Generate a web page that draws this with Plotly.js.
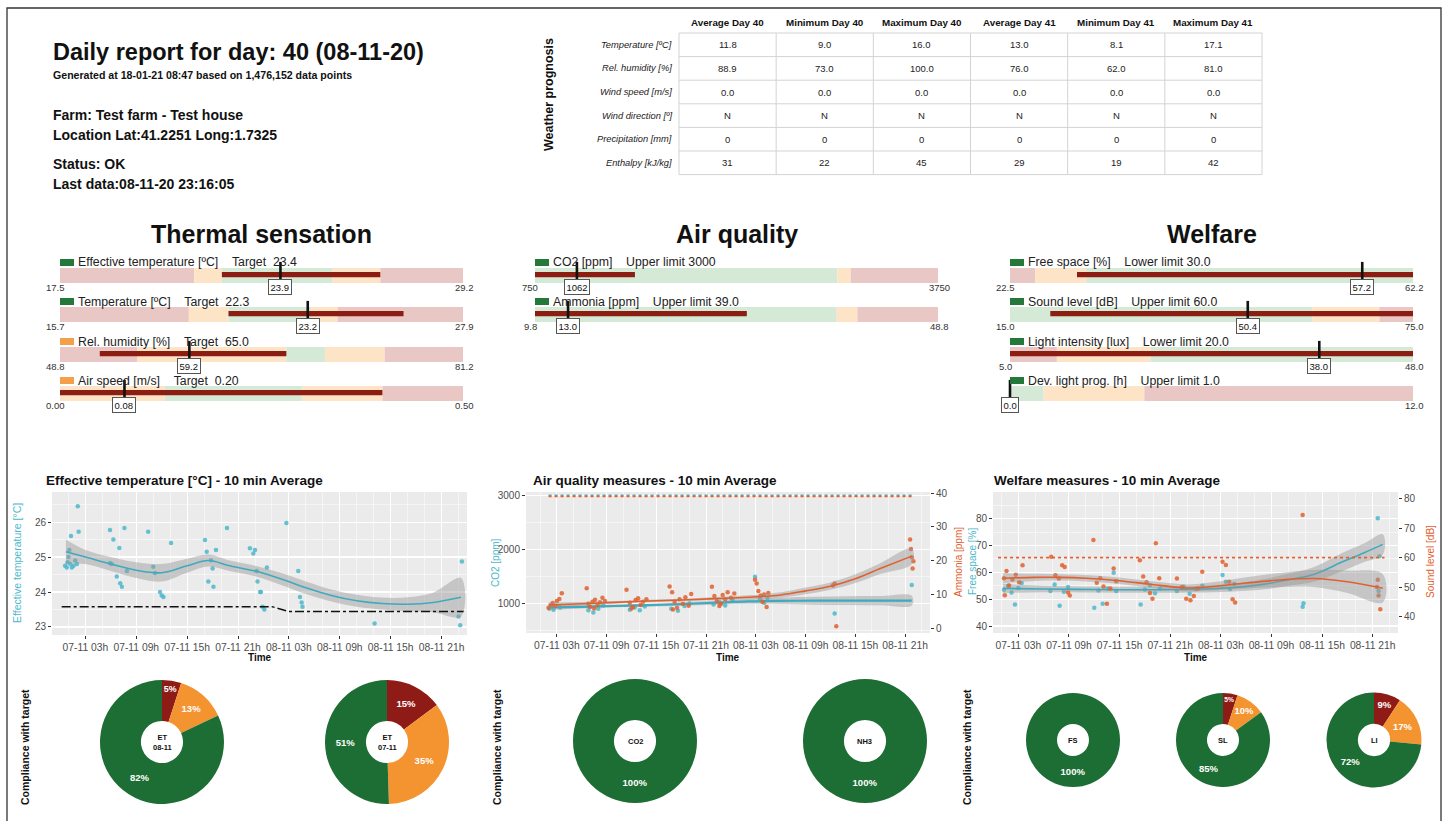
<!DOCTYPE html>
<html>
<head>
<meta charset="utf-8">
<title>Daily report</title>
<script src="https://cdn.plot.ly/plotly-3.0.1.min.js"></script>
<style>
html,body{margin:0;padding:0;background:#ffffff;overflow:hidden;}
#chart{width:1449px;height:821px;}
</style>
</head>
<body>
<div id="chart"></div>
<script>
// ================= DATA =================
const reportTitle = 'Daily report for day: 40 (08-11-20)';
const reportSubtitle = 'Generated at 18-01-21 08:47 based on 1,476,152 data points';
const farmInfo = ['Farm: Test farm - Test house', 'Location Lat:41.2251 Long:1.7325'];
const statusInfo = ['Status: OK', 'Last data:08-11-20 23:16:05'];

const weatherTitle = 'Weather prognosis';
const weatherColumns = ['Average Day 40', 'Minimum Day 40', 'Maximum Day 40', 'Average Day 41', 'Minimum Day 41', 'Maximum Day 41'];
const weatherRows = ['Temperature [ºC]', 'Rel. humidity [%]', 'Wind speed [m/s]', 'Wind direction [º]', 'Precipitation [mm]', 'Enthalpy [kJ/kg]'];
const weatherAvg40 = ['11.8', '88.9', '0.0', 'N', '0', '31'];
const weatherMin40 = ['9.0', '73.0', '0.0', 'N', '0', '22'];
const weatherMax40 = ['16.0', '100.0', '0.0', 'N', '0', '45'];
const weatherAvg41 = ['13.0', '76.0', '0.0', 'N', '0', '29'];
const weatherMin41 = ['8.1', '62.0', '0.0', 'N', '0', '19'];
const weatherMax41 = ['17.1', '81.0', '0.0', 'N', '0', '42'];

const sectionTitles = ['Thermal sensation', 'Air quality', 'Welfare'];

// gauges (0 = thermal, 1 = air quality, 2 = welfare)
const gaugeGroup = [0, 0, 0, 0, 1, 1, 2, 2, 2, 2];
const gaugeNames = ['Effective temperature [ºC]', 'Temperature [ºC]', 'Rel. humidity [%]', 'Air speed [m/s]',
  'CO2 [ppm]', 'Ammonia [ppm]',
  'Free space [%]', 'Sound level [dB]', 'Light intensity [lux]', 'Dev. light prog. [h]'];
const gaugeLimitText = ['Target  23.4', 'Target  22.3', 'Target  65.0', 'Target  0.20',
  'Upper limit 3000', 'Upper limit 39.0',
  'Lower limit 30.0', 'Upper limit 60.0', 'Lower limit 20.0', 'Upper limit 1.0'];
const gaugeMin = [17.5, 15.7, 48.8, 0.0, 750, 9.8, 22.5, 15.0, 5.0, 0.0];
const gaugeMax = [29.2, 27.9, 81.2, 0.5, 3750, 48.8, 62.2, 75.0, 48.0, 12.0];
const gaugeMinLabel = ['17.5', '15.7', '48.8', '0.00', '750', '9.8', '22.5', '15.0', '5.0', '0.0'];
const gaugeMaxLabel = ['29.2', '27.9', '81.2', '0.50', '3750', '48.8', '62.2', '75.0', '48.0', '12.0'];
const gaugeValue = [23.9, 23.2, 59.2, 0.08, 1062, 13.0, 57.2, 50.4, 38.0, 0.0];
const gaugeValueLabel = ['23.9', '23.2', '59.2', '0.08', '1062', '13.0', '57.2', '50.4', '38.0', '0.0'];
const gaugeRangeLow = [22.2, 20.8, 52.0, 0.00, 750, 9.8, 29.1, 21.0, 5.0, 0.0];
const gaugeRangeHigh = [26.8, 26.1, 67.0, 0.40, 1494, 30.3, 62.2, 75.0, 48.0, 0.0];
const gaugeStatus = ['ok', 'ok', 'warn', 'warn', 'ok', 'ok', 'ok', 'ok', 'ok', 'ok'];
const gaugeZoneBreaks = [
  [17.5, 21.4, 22.2, 25.4, 26.8, 29.2],
  [15.7, 19.6, 20.8, 23.3, 24.1, 27.9],
  [48.8, 55.0, 67.0, 70.1, 74.9, 81.2],
  [0.00, 0.13, 0.30, 0.40, 0.50],
  [750, 3000, 3100, 3750],
  [9.8, 39.0, 41.0, 48.8],
  [22.5, 25.0, 30.0, 62.2],
  [15.0, 60.0, 70.0, 75.0],
  [5.0, 10.0, 20.0, 48.0],
  [0.0, 1.0, 4.0, 12.0]
];
const gaugeZoneLevels = [
  ['bad', 'warn', 'ok', 'warn', 'bad'],
  ['bad', 'warn', 'ok', 'warn', 'bad'],
  ['bad', 'warn', 'ok', 'warn', 'bad'],
  ['warn', 'ok', 'warn', 'bad'],
  ['ok', 'warn', 'bad'],
  ['ok', 'warn', 'bad'],
  ['bad', 'warn', 'ok'],
  ['ok', 'warn', 'bad'],
  ['bad', 'warn', 'ok'],
  ['ok', 'warn', 'bad']
];

// time series (hours since 07-11 00:00)
const chartTitles = ['Effective temperature [°C] - 10 min Average', 'Air quality measures - 10 min Average', 'Welfare measures - 10 min Average'];
const timeTickHours = [3, 9, 15, 21, 27, 33, 39, 45];
const timeTickLabels = ['07-11 03h', '07-11 09h', '07-11 15h', '07-11 21h', '08-11 03h', '08-11 09h', '08-11 15h', '08-11 21h'];

const etHours = [0.6, 0.8, 0.9, 1.0, 1.1, 1.2, 1.3, 1.4, 1.6, 1.8, 2.0, 2.1, 2.2,
  5.9, 5.9, 6.1, 6.3, 6.7, 7.0, 7.1, 7.3, 7.6, 7.9,
  10.4, 11.0, 11.2, 11.8, 12.0, 12.2, 13.1,
  17.1, 17.3, 17.5, 17.8, 18.0, 18.1, 18.4, 19.7,
  22.4, 22.8, 23.0, 23.2, 23.3, 23.6, 23.7, 23.9, 24.1, 24.4,
  26.7, 28.1, 28.3, 28.5, 28.6, 37.1, 47.0, 47.2, 47.4];
const etValues = [24.75, 24.70, 24.85, 25.00, 25.20, 24.80, 25.60, 24.70, 24.75, 24.90, 24.80, 26.45, 25.72,
  25.77, 24.83, 24.80, 25.50, 24.44, 25.26, 24.25, 24.15, 25.83, 24.60,
  25.72, 24.72, 24.54, 24.00, 23.90, 23.86, 25.40,
  25.49, 25.15, 24.30, 24.91, 24.67, 24.15, 25.20, 25.83,
  25.25, 25.10, 25.20, 24.60, 24.30, 24.00, 24.00, 23.58, 23.50, 24.70,
  25.97, 24.60, 23.86, 23.70, 23.58, 23.10, 23.30, 23.05, 24.87];
const etSmoothHours = [0.7, 3, 6, 9, 12, 15, 17.5, 20, 23, 26, 29, 32, 35, 38, 41, 44, 47.3];
const etSmoothValues = [25.15, 25.00, 24.80, 24.62, 24.55, 24.75, 24.90, 24.75, 24.60, 24.38, 24.12, 23.90, 23.75, 23.67, 23.65, 23.70, 23.85];
const etSmoothLow = [24.80, 24.80, 24.60, 24.40, 24.30, 24.55, 24.73, 24.60, 24.45, 24.21, 23.94, 23.73, 23.58, 23.50, 23.45, 23.42, 23.30];
const etSmoothHigh = [25.50, 25.20, 25.00, 24.85, 24.80, 24.95, 25.07, 24.90, 24.75, 24.55, 24.30, 24.07, 23.92, 23.84, 23.85, 23.98, 24.40];
const etTargetHours = [0.2, 25.0, 27.0, 47.6];
const etTargetValues = [23.58, 23.58, 23.44, 23.44];

const co2Hours = [2.1, 2.6, 3.0, 3.4, 6.8, 7.4, 8.0, 8.6, 11.8, 12.4, 13.0, 13.6, 16.8, 17.6, 18.4, 19.0,
  21.9, 22.6, 23.3, 24.2, 26.9, 27.5, 28.0, 28.4, 36.5, 45.8];
const co2Values = [900, 880, 950, 920, 870, 830, 900, 960, 880, 920, 870, 940, 900, 860, 950, 1000,
  980, 1020, 960, 1060, 1490, 1080, 1010, 1100, 810, 1340];
const nh3Hours = [2.0, 2.3, 2.5, 2.8, 3.0, 3.3, 3.6,
  6.6, 6.8, 7.0, 7.3, 7.5, 7.6, 7.9, 8.2, 8.5, 8.8,
  11.4, 11.8, 12.0, 12.2, 12.5, 12.8, 13.1, 13.4, 13.8,
  16.6, 16.9, 17.0, 17.2, 17.5, 17.8, 18.2, 18.5, 18.9, 19.2,
  21.7, 22.0, 22.3, 22.6, 22.8, 23.0, 23.3, 23.6, 24.0, 24.4,
  26.9, 27.1, 27.3, 27.6, 27.8, 28.0, 28.3, 28.5,
  36.3, 36.5, 36.7, 45.6, 45.7, 45.8, 45.9, 46.0];
const nh3Values = [6.0, 6.8, 7.4, 6.5, 8.0, 8.6, 10.3,
  11.8, 7.2, 6.2, 7.8, 5.8, 8.4, 6.8, 7.6, 9.0, 8.0,
  11.3, 7.5, 5.8, 6.2, 8.3, 8.8, 6.8, 7.8, 8.5,
  12.3, 10.6, 5.5, 7.8, 6.0, 8.5, 7.2, 9.1, 6.6, 10.1,
  12.2, 9.5, 8.0, 6.5, 7.2, 9.8, 8.5, 10.6, 9.0, 10.2,
  14.3, 13.2, 11.0, 9.6, 7.8, 9.9, 6.2, 10.4,
  12.6, 13.2, 0.5, 26.2, 23.4, 21.0, 17.6, 19.8];
const co2SmoothHours = [2, 6, 10, 14, 18, 22, 26, 30, 34, 38, 42, 45.8];
const co2SmoothValues = [925, 935, 950, 965, 985, 1010, 1035, 1045, 1048, 1050, 1050, 1050];
const co2SmoothLow = [880, 905, 925, 940, 955, 975, 990, 985, 975, 970, 965, 960];
const co2SmoothHigh = [970, 965, 975, 990, 1015, 1045, 1080, 1105, 1120, 1130, 1135, 1140];
const nh3SmoothHours = [2, 6, 10, 14, 18, 22, 26, 30, 33, 36, 39, 42, 45.8];
const nh3SmoothValues = [6.8, 7.2, 7.6, 8.0, 8.3, 8.7, 9.1, 9.8, 11.0, 12.4, 14.6, 17.6, 21.3];
const nh3SmoothLow = [6.0, 6.7, 7.2, 7.6, 7.9, 8.2, 8.5, 9.0, 10.0, 11.3, 13.3, 16.0, 19.0];
const nh3SmoothHigh = [7.6, 7.7, 8.0, 8.4, 8.7, 9.2, 9.7, 10.6, 12.0, 13.5, 15.9, 19.2, 23.6];
const co2LimitHours = [2.0, 45.8];
const co2LimitValues = [3000, 3000];
const nh3LimitHours = [2.0, 45.8];
const nh3LimitValues = [39, 39];

const fsHours = [1.3, 1.8, 2.2, 2.6, 3.0, 3.4, 6.8, 7.3, 7.9, 8.4, 8.9,
  12.0, 12.5, 13.0, 13.6, 14.3, 14.6, 17.5, 18.0, 18.6, 19.2, 19.8,
  21.8, 22.6, 23.3, 24.0, 24.8, 27.2, 27.6, 28.1, 28.6, 36.7, 36.8, 45.6, 45.7, 45.8];
const fsValues = [53.5, 55.0, 52.5, 48.0, 54.2, 56.0, 53.0, 55.5, 47.5, 52.8, 54.5,
  46.8, 53.2, 48.3, 54.0, 59.8, 53.0, 48.0, 53.6, 55.2, 52.2, 54.0,
  53.0, 54.6, 52.0, 53.8, 55.0, 59.0, 56.5, 53.8, 55.6, 47.2, 48.5, 80.1, 53.0, 66.0];
const slHours = [1.3, 1.4, 1.6, 1.9, 2.3, 2.7, 3.1, 3.5, 6.9, 7.4, 7.8, 8.2, 8.5, 8.9, 9.1,
  11.9, 12.3, 12.7, 13.1, 13.5, 13.9, 14.3, 14.6, 17.4, 17.8, 18.2, 18.6, 18.9, 19.3, 19.7,
  21.8, 22.4, 22.9, 23.4, 23.8, 24.3, 24.8, 27.2, 27.6, 28.0, 28.4, 28.7, 36.7, 45.5, 45.6, 45.7, 45.9];
const slValues = [53.0, 47.2, 55.5, 50.5, 52.6, 54.2, 51.6, 57.4, 60.3, 54.0, 52.9, 57.4, 56.8, 48.2, 47.1,
  66.0, 51.5, 53.0, 50.2, 44.3, 49.5, 56.3, 52.0, 59.1, 53.6, 51.6, 48.0, 46.0, 64.9, 53.0,
  52.9, 50.0, 46.0, 45.5, 47.0, 49.5, 55.2, 58.6, 57.5, 51.8, 45.9, 44.8, 74.5, 50.0, 52.5, 47.1, 42.5];
const fsSmoothHours = [1.2, 6, 12, 18, 24, 28, 32, 35.5, 38, 41.5, 44, 46.2];
const fsSmoothValues = [54.0, 53.8, 53.6, 53.5, 53.7, 54.2, 55.5, 57.5, 59.2, 64.0, 67.3, 70.4];
const fsSmoothLow = [52.3, 52.6, 52.5, 52.4, 52.5, 52.8, 53.6, 55.2, 56.5, 60.6, 63.8, 66.6];
const fsSmoothHigh = [55.7, 55.0, 54.7, 54.6, 54.9, 55.6, 57.4, 59.8, 61.9, 67.4, 70.8, 74.2];
const slSmoothHours = [1.2, 5, 8, 11, 14, 17, 20, 23, 26, 30, 34, 38, 42, 46.2];
const slSmoothValues = [53.0, 53.3, 53.3, 53.0, 52.4, 51.5, 50.5, 49.7, 50.2, 51.4, 52.4, 52.9, 51.8, 49.6];
const slSmoothLow = [51.3, 52.1, 52.2, 51.9, 51.3, 50.4, 49.4, 48.5, 48.8, 49.5, 50.0, 50.0, 48.0, 44.8];
const slSmoothHigh = [54.7, 54.5, 54.4, 54.1, 53.5, 52.6, 51.6, 50.9, 51.6, 53.3, 54.8, 55.8, 55.6, 54.4];
const slLimitHours = [0.6, 46.4];
const slLimitValues = [60, 60];

// compliance donuts
const complianceTitle = 'Compliance with target';
const pieNames = ['ET<br>08-11', 'ET<br>07-11', 'CO2', 'NH3', 'FS', 'SL', 'LI'];
const pieBad = [5, 15, 0, 0, 0, 5, 9];
const pieWarn = [13, 35, 0, 0, 0, 10, 17];
const pieOk = [82, 51, 100, 100, 100, 85, 72];

// ================= STYLE / LAYOUT =================
const W = 1449, H = 821;
const FONT = '"Liberation Sans", Arial, Helvetica, sans-serif';
const fx = p => p / W;
const fy = p => 1 - p / H;
const sfx = n => (n === 1 ? '' : String(n));
const ZONE_COLORS = {bad: '#e9c7c5', warn: '#fde4c6', ok: '#d4ead6'};
const STATUS_COLORS = {ok: '#23783a', warn: '#f4a04a'};
const RANGE_COLOR = '#8c1d12';
const CYAN = '#4cb8cb', ORANGE = '#e2602e';
const PIE_COLORS = {bad: '#8e1b16', warn: '#f39431', ok: '#1d6e34'};
const PIE_LEVELS = ['bad', 'warn', 'ok'];

const data = [];
const A = [];
const S = [];
function font(size, color, fam) { return {family: fam || FONT, size: size, color: color || '#111'}; }
function note(x, y, text, o) {
  A.push(Object.assign({xref: 'paper', yref: 'paper', x: fx(x), y: fy(y), text: text, showarrow: false,
    xanchor: 'left', yanchor: 'middle', font: font(12)}, o || {}));
}
function hline(x0, x1, y, color, w) {
  S.push({type: 'line', xref: 'paper', yref: 'paper', x0: fx(x0), x1: fx(x1), y0: fy(y), y1: fy(y), line: {color: color, width: w}});
}
function vline(x, y0, y1, color, w) {
  S.push({type: 'line', xref: 'paper', yref: 'paper', x0: fx(x), x1: fx(x), y0: fy(y0), y1: fy(y1), line: {color: color, width: w}});
}
const nb = s => s.replace(/ /g, '\u00A0');

// ---- header ----
note(51, 52, '<b>' + reportTitle + '</b>', {font: font(23.5)});
note(51, 75, '<b>' + reportSubtitle + '</b>', {font: font(10.6)});
note(51, 115, '<b>' + farmInfo[0] + '</b>', {font: font(14)});
note(51, 135, '<b>' + farmInfo[1] + '</b>', {font: font(14)});
note(51, 164, '<b>' + statusInfo[0] + '</b>', {font: font(14)});
note(51, 184, '<b>' + statusInfo[1] + '</b>', {font: font(14)});

// ---- weather table ----
note(549, 95, '<b>' + weatherTitle + '</b>', {xanchor: 'center', textangle: -90, font: font(12.5)});
const TBL_X0 = 679, TBL_COLW = 97.17, TBL_Y0 = 33, TBL_ROWH = 23.6, TBL_HEAD_Y = 22;
const valueCols = [weatherAvg40, weatherMin40, weatherMax40, weatherAvg41, weatherMin41, weatherMax41];
for (let r = 0; r <= weatherRows.length; r++) hline(TBL_X0, TBL_X0 + TBL_COLW * valueCols.length, TBL_Y0 + r * TBL_ROWH, '#d3d3d3', 1);
for (let c = 0; c <= valueCols.length; c++) vline(TBL_X0 + c * TBL_COLW, TBL_Y0, TBL_Y0 + weatherRows.length * TBL_ROWH, '#d3d3d3', 1);
weatherColumns.forEach((h, c) => note(TBL_X0 + (c + 0.5) * TBL_COLW, TBL_HEAD_Y, '<b>' + h + '</b>', {xanchor: 'center', font: font(9.8, '#111')}));
weatherRows.forEach((lab, r) => {
  const y = TBL_Y0 + (r + 0.5) * TBL_ROWH;
  note(TBL_X0 - 5, y, '<i>' + lab + '</i>', {xanchor: 'right', font: font(9.3, '#222')});
  valueCols.forEach((col, c) => note(TBL_X0 + (c + 0.5) * TBL_COLW, y, col[r], {xanchor: 'center', font: font(9.5, '#222')}));
});

// ---- gauges ----
const GROUP_LEFT = [60, 535, 1010];
const ROW_TOP = [268, 307, 347, 386];
const BAND_W = 403, BAND_H = 15;
const layout = {
  width: W, height: H, margin: {l: 0, r: 0, t: 0, b: 0},
  paper_bgcolor: 'white', plot_bgcolor: 'rgba(0,0,0,0)',
  showlegend: false, hovermode: false, barmode: 'overlay',
  font: {family: FONT, color: '#222'}
};
sectionTitles.forEach((t, g) => note(GROUP_LEFT[g] + BAND_W / 2, 234, '<b>' + t + '</b>', {xanchor: 'center', font: font(25)}));

const rowCount = [0, 0, 0];
const gaugeAxes = [];
for (let i = 0; i < gaugeNames.length; i++) {
  const g = gaugeGroup[i], r = rowCount[g]++;
  const n = i + 1, s = sfx(n);
  const left = GROUP_LEFT[g], top = ROW_TOP[r];
  gaugeAxes.push(s);
  layout['xaxis' + s] = {domain: [fx(left), fx(left + BAND_W)], range: [gaugeMin[i], gaugeMax[i]], visible: false, fixedrange: true, anchor: 'y' + s};
  layout['yaxis' + s] = {domain: [fy(top + BAND_H), fy(top)], range: [-0.5, 0.5], visible: false, fixedrange: true, anchor: 'x' + s};
  const br = gaugeZoneBreaks[i];
  const starts = br.slice(0, -1);
  data.push({type: 'bar', orientation: 'h', xaxis: 'x' + s, yaxis: 'y' + s,
    y: starts.map(() => 0), base: starts, x: br.slice(1).map((b, k) => b - br[k]), width: 1,
    marker: {color: gaugeZoneLevels[i].map(l => ZONE_COLORS[l]), line: {width: 0}}, hoverinfo: 'skip'});
  if (gaugeRangeHigh[i] > gaugeRangeLow[i]) {
    data.push({type: 'bar', orientation: 'h', xaxis: 'x' + s, yaxis: 'y' + s,
      y: [0.06], base: [gaugeRangeLow[i]], x: [gaugeRangeHigh[i] - gaugeRangeLow[i]], width: 0.34,
      marker: {color: RANGE_COLOR, line: {width: 0}}, hoverinfo: 'skip'});
  }
  data.push({type: 'scatter', mode: 'markers', xaxis: 'x' + s, yaxis: 'y' + s, x: [gaugeValue[i]], y: [0.3],
    cliponaxis: false, marker: {symbol: 'line-ns', size: 13, line: {width: 2.6, color: '#111'}}, hoverinfo: 'skip'});
  S.push({type: 'rect', xref: 'paper', yref: 'paper', x0: fx(left), x1: fx(left + 14), y0: fy(top - 2), y1: fy(top - 9),
    fillcolor: STATUS_COLORS[gaugeStatus[i]], line: {width: 0}});
  note(left + 16, top - 5.5, nb(gaugeNames[i] + '    ' + gaugeLimitText[i]), {font: font(12.3, '#222')});
  // the min label sits under the value box when the value equals the minimum
  if (gaugeValue[i] !== gaugeMin[i]) {
    A.push({xref: 'x' + s, yref: 'y' + s, x: gaugeMin[i], y: -0.5, xshift: -5, yshift: -4.5, xanchor: 'center', yanchor: 'middle',
      text: gaugeMinLabel[i], showarrow: false, font: font(9.5, '#333')});
  }
  A.push({xref: 'x' + s, yref: 'y' + s, x: gaugeMax[i], y: -0.5, xshift: 1, yshift: -4.5, xanchor: 'center', yanchor: 'middle',
    text: gaugeMaxLabel[i], showarrow: false, font: font(9.5, '#333')});
}
for (let i = 0; i < gaugeNames.length; i++) {
  const s = gaugeAxes[i];
  A.push({xref: 'x' + s, yref: 'y' + s, x: gaugeValue[i], y: -0.5, yshift: -4, xanchor: 'center', yanchor: 'middle',
    text: gaugeValueLabel[i], showarrow: false, bgcolor: 'white', bordercolor: '#555', borderwidth: 1, borderpad: 1.5,
    font: font(9.5, '#111')});
}

// ---- time series charts ----
const panels = [
  {x: [52, 467], y: [492, 635], range: [-0.94, 48]},
  {x: [526, 930], y: [492, 633], range: [-0.72, 48]},
  {x: [993, 1398], y: [492, 633], range: [0, 48]}
];
const TICKFONT = font(10.3, '#4d4d4d');
const YTICKFONT = font(10, '#4d4d4d');
function xTime(p, yId) {
  return {domain: [fx(p.x[0]), fx(p.x[1])], range: p.range, anchor: yId,
    tickmode: 'array', tickvals: timeTickHours, ticktext: timeTickLabels, tickangle: 0,
    ticks: 'outside', ticklen: 3, tickwidth: 1, tickcolor: '#333', tickfont: TICKFONT,
    showgrid: true, gridcolor: '#ffffff', gridwidth: 1.1,
    minor: {tickmode: 'linear', tick0: 1, dtick: 2, showgrid: true, gridcolor: '#ffffff', gridwidth: 0.5},
    zeroline: false, showline: false, fixedrange: true};
}
function yLeft(p, xId, range, tickvals, minorD) {
  return {domain: [fy(p.y[1]), fy(p.y[0])], range: range, anchor: xId,
    tickmode: 'array', tickvals: tickvals, ticks: 'outside', ticklen: 3, tickwidth: 1, tickcolor: '#333', tickfont: YTICKFONT,
    showgrid: true, gridcolor: '#ffffff', gridwidth: 1.1,
    minor: {tickmode: 'linear', tick0: 0, dtick: minorD, showgrid: true, gridcolor: '#ffffff', gridwidth: 0.5},
    zeroline: false, showline: false, fixedrange: true};
}
function yRight(overId, xId, range, tickvals) {
  return {overlaying: overId, side: 'right', anchor: xId, range: range,
    tickmode: 'array', tickvals: tickvals, ticks: 'outside', ticklen: 3, tickwidth: 1, tickcolor: '#333', tickfont: YTICKFONT,
    showgrid: false, zeroline: false, showline: false, fixedrange: true};
}
layout.xaxis11 = xTime(panels[0], 'y11');
layout.yaxis11 = yLeft(panels[0], 'x11', [22.77, 26.86], [23, 24, 25, 26], 0.5);
layout.xaxis12 = xTime(panels[1], 'y12');
layout.yaxis12 = yLeft(panels[1], 'x12', [450, 3061], [1000, 2000, 3000], 500);
layout.yaxis14 = yRight('y12', 'x12', [-1.48, 40.3], [0, 10, 20, 30, 40]);
layout.xaxis13 = xTime(panels[2], 'y13');
layout.yaxis13 = yLeft(panels[2], 'x13', [37.4, 89.9], [40, 50, 60, 70, 80], 5);
layout.yaxis15 = yRight('y13', 'x13', [34.4, 82.3], [40, 50, 60, 70, 80]);

panels.forEach(p => S.push({type: 'rect', xref: 'paper', yref: 'paper', layer: 'below',
  x0: fx(p.x[0]), x1: fx(p.x[1]), y0: fy(p.y[1]), y1: fy(p.y[0]), fillcolor: '#ebebeb', line: {width: 0}}));

function pts(xId, yId, hrs, vals, color) {
  data.push({type: 'scatter', mode: 'markers', xaxis: xId, yaxis: yId, x: hrs, y: vals,
    marker: {color: color, size: 4.5, opacity: 0.85}, hoverinfo: 'skip'});
}
function band(xId, yId, hrs, low, high) {
  data.push({type: 'scatter', mode: 'lines', xaxis: xId, yaxis: yId,
    x: hrs.concat(hrs.slice().reverse()), y: high.concat(low.slice().reverse()),
    fill: 'toself', fillcolor: 'rgba(150,150,150,0.45)', line: {width: 0, shape: 'spline'}, hoverinfo: 'skip'});
}
function curve(xId, yId, hrs, vals, color, width, dash, shape) {
  data.push({type: 'scatter', mode: 'lines', xaxis: xId, yaxis: yId, x: hrs, y: vals,
    line: {color: color, width: width, dash: dash || 'solid', shape: shape || 'spline'}, hoverinfo: 'skip'});
}
// chart 1
pts('x11', 'y11', etHours, etValues, CYAN);
band('x11', 'y11', etSmoothHours, etSmoothLow, etSmoothHigh);
curve('x11', 'y11', etSmoothHours, etSmoothValues, '#3daabf', 1.6);
curve('x11', 'y11', etTargetHours, etTargetValues, '#111', 1.4, 'dashdot', 'linear');
// chart 2
pts('x12', 'y12', co2Hours, co2Values, CYAN);
band('x12', 'y12', co2SmoothHours, co2SmoothLow, co2SmoothHigh);
curve('x12', 'y12', co2SmoothHours, co2SmoothValues, '#3daabf', 2.2);
curve('x12', 'y12', co2LimitHours, co2LimitValues, CYAN, 1.8, 'dot', 'linear');
pts('x12', 'y14', nh3Hours, nh3Values, ORANGE);
band('x12', 'y14', nh3SmoothHours, nh3SmoothLow, nh3SmoothHigh);
curve('x12', 'y14', nh3SmoothHours, nh3SmoothValues, ORANGE, 1.6);
curve('x12', 'y14', nh3LimitHours, nh3LimitValues, ORANGE, 1.8, 'dot', 'linear');
// chart 3
pts('x13', 'y13', fsHours, fsValues, CYAN);
band('x13', 'y13', fsSmoothHours, fsSmoothLow, fsSmoothHigh);
curve('x13', 'y13', fsSmoothHours, fsSmoothValues, '#3daabf', 1.6);
pts('x13', 'y15', slHours, slValues, ORANGE);
band('x13', 'y15', slSmoothHours, slSmoothLow, slSmoothHigh);
curve('x13', 'y15', slSmoothHours, slSmoothValues, ORANGE, 1.6);
curve('x13', 'y15', slLimitHours, slLimitValues, ORANGE, 1.8, 'dot', 'linear');

// chart titles & axis titles
note(44, 480, '<b>' + chartTitles[0] + '</b>', {font: font(13.5)});
note(531, 480, '<b>' + chartTitles[1] + '</b>', {font: font(13.5)});
note(992, 480, '<b>' + chartTitles[2] + '</b>', {font: font(13.5)});
panels.forEach(p => note((p.x[0] + p.x[1]) / 2, 657, '<b>Time</b>', {xanchor: 'center', font: font(10)}));
note(17, 563, 'Effective temperature [°C]', {xanchor: 'center', textangle: -90, font: font(10.5, CYAN)});
note(495, 562, 'CO2 [ppm]', {xanchor: 'center', textangle: -90, font: font(10, CYAN)});
note(958, 562, 'Ammonia [ppm]', {xanchor: 'center', textangle: -90, font: font(10, ORANGE)});
note(972, 562, 'Free space [%]', {xanchor: 'center', textangle: -90, font: font(10, CYAN)});
note(1430, 562, 'Sound level [dB]', {xanchor: 'center', textangle: -90, font: font(10, ORANGE)});

// ---- donuts ----
const pieCenters = [[162, 742], [387, 742], [635, 741], [865, 741], [1073, 740], [1223, 740], [1374, 740]];
const pieRadius = [62, 62, 62, 62, 47, 47, 47.5];
for (let i = 0; i < pieNames.length; i++) {
  const vals = [pieBad[i], pieWarn[i], pieOk[i]];
  const keep = vals.map((v, k) => k).filter(k => vals[k] > 0);
  const cx = pieCenters[i][0], cy = pieCenters[i][1], r = pieRadius[i];
  data.push({type: 'pie', domain: {x: [fx(cx - r), fx(cx + r)], y: [fy(cy + r), fy(cy - r)]},
    values: keep.map(k => vals[k]), labels: keep.map(k => PIE_LEVELS[k]),
    marker: {colors: keep.map(k => PIE_COLORS[PIE_LEVELS[k]]), line: {width: 0}},
    hole: 0.34, sort: false, direction: 'clockwise', rotation: 0,
    text: keep.map(k => '<b>' + vals[k] + '%</b>'), textinfo: 'text', textposition: 'inside',
    insidetextorientation: 'horizontal', textfont: font(9.5, 'white'), hoverinfo: 'skip', showlegend: false});
  note(cx, cy, '<b>' + pieNames[i] + '</b>', {xanchor: 'center', font: font(7.5, '#111')});
}
[25, 497, 967].forEach(x => note(x, 747, '<b>' + complianceTitle + '</b>', {xanchor: 'center', textangle: -90, font: font(10.5)}));

// ---- frame ----
S.push({type: 'rect', xref: 'paper', yref: 'paper', x0: fx(7), x1: fx(1441), y0: fy(830), y1: fy(8),
  line: {color: '#333', width: 1.3}, fillcolor: 'rgba(0,0,0,0)'});

layout.annotations = A;
layout.shapes = S;
Plotly.newPlot('chart', data, layout, {staticPlot: true, displayModeBar: false});
</script>
</body>
</html>
